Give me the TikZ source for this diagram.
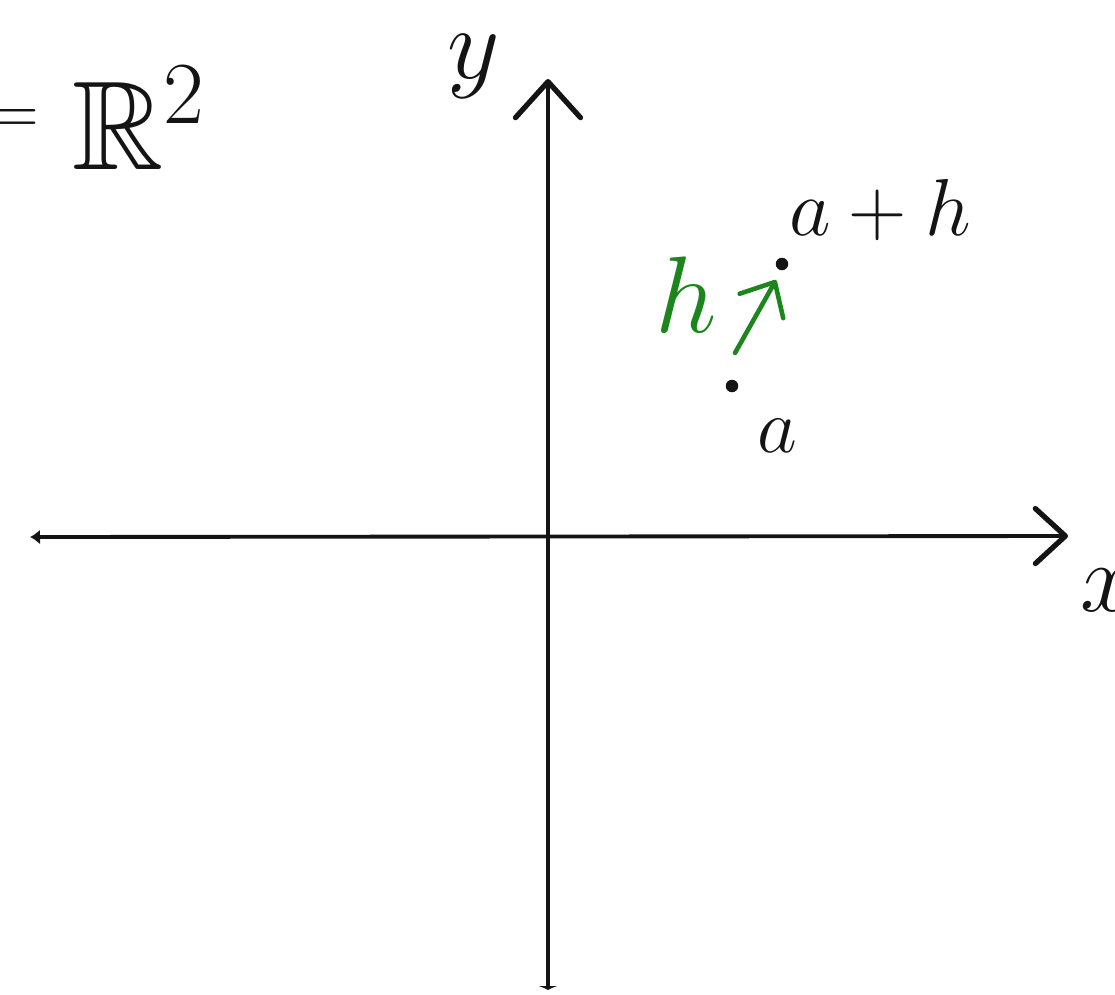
\RequirePackage{fix-cm}
\documentclass[tikz,border=0pt]{standalone}
\usepackage{amssymb}
\usetikzlibrary{arrows.meta}
\definecolor{pen}{RGB}{20,20,20}
\definecolor{hgreen}{RGB}{28,134,28}
\tikzset{
  axis/.style={draw=pen, line width=2.2pt, line cap=round},
  ptdot/.style={circle, fill=pen, inner sep=0pt, minimum size=0.25cm},
  lbl/.style={text=pen, inner sep=0pt},
  harrow/.style={draw=hgreen, line width=2.6pt, line cap=round,
    -{Straight Barb[length=0.55cm, width=1.0cm, line width=2.6pt, round]}},
}
\newcommand{\fsz}[1]{\fontsize{#1}{#1}\selectfont}
\begin{document}
\begin{tikzpicture}[x=0.02cm, y=-0.02cm]
\useasboundingbox (0,0) rectangle (1115,994);
% axes
\coordinate (xl) at (30,537);
\coordinate (xr) at (1068,536);
\coordinate (yb) at (548,990);
\coordinate (yt) at (548,79);
\draw[axis, {Latex[length=0.2cm, width=0.3cm]}-{Straight Barb[length=0.6cm, width=1.1cm, line width=3pt, round]}] (xl) -- (xr);
\draw[axis, {Latex[length=0.08cm, width=0.4cm]}-{Straight Barb[length=0.72cm, width=1.3cm, line width=3pt, round]}] (yb) -- (yt);
% axis labels
\node[lbl, font=\fsz{58}] (ylab) at (474,66) {$y$};
\node[lbl, font=\fsz{56}] (xlab) at (1108,590) {$x$};
% title
\node[lbl, font=\fsz{40}] (eq) at (14,122) {$=$};
\node[lbl, font=\fsz{72}, anchor=west] (R2) at (72,118) {$\mathbb{R}^2$};
% points
\node[ptdot] (a) at (732,386) {};
\node[ptdot] (ah) at (782,264) {};
\node[lbl, font=\fsz{44}] (alab) at (777,436) {$a$};
\node[lbl, font=\fsz{46}] (ahlab) at (880,210) {$a+h$};
% vector h
\coordinate (hs) at (735,353);
\coordinate (he) at (776,280);
\draw[harrow] (hs) -- (he);
\node[lbl, text=hgreen, font=\fsz{62}] (hlab) at (686,295) {$h$};
\end{tikzpicture}
\end{document}
